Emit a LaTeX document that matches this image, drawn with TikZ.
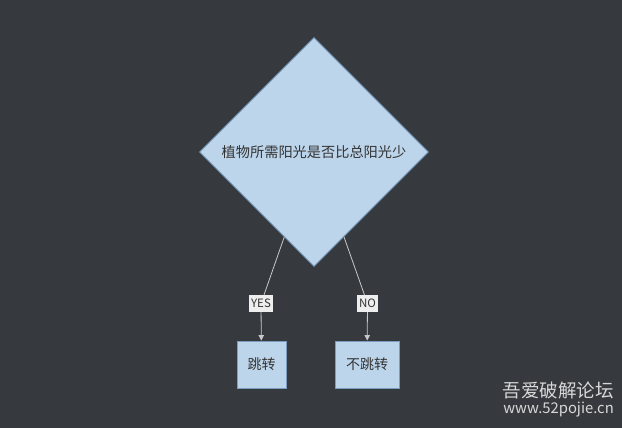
\documentclass[tikz,border=0pt]{standalone}
\usepackage{fontspec}
\setmainfont{Noto Sans CJK SC}
\usetikzlibrary{shapes.geometric,arrows.meta}
\definecolor{bgcol}{HTML}{363A3E}
\definecolor{boxcol}{HTML}{BDD5EB}
\definecolor{edgecol}{HTML}{7C9CBF}
\definecolor{linecol}{HTML}{C8C8C8}
\definecolor{labcol}{HTML}{EEEEEE}
\definecolor{txtcol}{HTML}{333333}
\definecolor{markcol}{HTML}{D8D8D8}
\tikzstyle{decision}=[diamond,draw=edgecol,fill=boxcol,line width=0.9,inner sep=0,
                      minimum size=229,text=txtcol,font=\fontsize{14.2}{17}\selectfont]
\tikzstyle{action}=[rectangle,draw=edgecol,fill=boxcol,line width=0.9,minimum height=47,
                    text=txtcol,font=\fontsize{14}{17}\selectfont]
\tikzstyle{answer}=[fill=labcol,inner sep=2,minimum height=17,text=txtcol,
                    font=\fontsize{11.5}{13}\selectfont]
\tikzset{
  flow/.style={linecol,line width=0.8},
  flow arrow/.style={flow,-{Triangle[length=5.5,width=5.5]}}}

\begin{document}
\begin{tikzpicture}[x=1pt,y=-1pt]
  % BACKGROUND
  \fill[bgcol] (0,0) rectangle (622,428);
  \useasboundingbox (0,0) rectangle (622,428);

  % NODES
  \node[decision] (ask) at (314,152) {植物所需阳光是否比总阳光少};
  \node[answer] (yes) at (261,303.5) {YES};
  \node[answer] (no) at (367.5,303.5) {NO};
  \node[action,minimum width=49] (jump) at (261.5,364.5) {跳转};
  \node[action,minimum width=64] (nojump) at (367,364.5) {不跳转};

  % LINES
  \draw[flow] (ask) -- (yes);
  \draw[flow] (ask) -- (no);
  \draw[flow arrow] (yes) -- (jump);
  \draw[flow arrow] (no) -- (nojump);

  % MARK
  \node[anchor=east,text=markcol,inner sep=0,font=\fontsize{18.5}{21}\selectfont] (site) at (614,390) {吾爱破解论坛};
  \node[anchor=east,text=markcol,inner sep=0,font=\fontsize{14.8}{17}\selectfont] (url) at (614,409.5) {www.52pojie.cn};
\end{tikzpicture}
\end{document}
